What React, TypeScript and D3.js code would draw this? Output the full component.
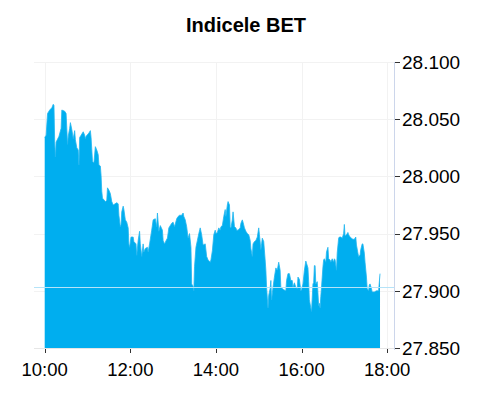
import React from "react";
import * as d3 from "d3";

const title = "Indicele BET";

const times: string[] = [
  "10:00","10:02","10:04","10:07","10:10","10:12","10:13","10:14","10:15","10:16",
  "10:20","10:23","10:24","10:28","10:30","10:32","10:33","10:35","10:36","10:38",
  "10:40","10:42","10:43","10:45","10:47","10:48","10:49","10:51","10:54","10:56",
  "10:57","10:58","11:02","11:04","11:05","11:07","11:09","11:11","11:13","11:15",
  "11:16","11:18","11:19","11:20","11:21","11:25","11:27","11:28","11:30","11:32",
  "11:34","11:36","11:41","11:43","11:44","11:46","11:47","11:48","11:50","11:51",
  "11:53","11:55","11:57","11:58","11:59","12:01","12:04","12:05","12:08","12:09",
  "12:11","12:13","12:14","12:16","12:18","12:19","12:21","12:24","12:25","12:27",
  "12:30","12:32","12:35","12:37","12:38","12:40","12:42","12:45","12:46","12:48",
  "12:51","12:52","12:54","12:58","13:00","13:02","13:05","13:07","13:09","13:12",
  "13:14","13:15","13:17","13:19","13:21","13:23","13:25","13:26","13:28","13:29",
  "13:30","13:32","13:34","13:36","13:38","13:40","13:42","13:45","13:47","13:49",
  "13:52","13:53","13:55","13:57","13:59","14:00","14:02","14:04","14:06","14:07",
  "14:09","14:11","14:13","14:14","14:16","14:17","14:19","14:20","14:21","14:23",
  "14:24","14:26","14:28","14:29","14:31","14:34","14:35","14:37","14:38","14:40",
  "14:42","14:44","14:46","14:48","14:49","14:51","14:52","14:54","14:56","14:58",
  "15:00","15:01","15:03","15:04","15:05","15:07","15:09","15:10","15:11","15:13",
  "15:14","15:16","15:17","15:18","15:20","15:22","15:24","15:26","15:28","15:30",
  "15:31","15:33","15:35","15:38","15:39","15:41","15:43","15:45","15:47","15:48",
  "15:50","15:52","15:54","15:55","15:57","15:59","16:00","16:02","16:04","16:06",
  "16:07","16:09","16:10","16:11","16:13","16:14","16:16","16:17","16:18","16:19",
  "16:20","16:22","16:23","16:24","16:25","16:26","16:27","16:28","16:30","16:31",
  "16:32","16:34","16:35","16:37","16:38","16:40","16:41","16:43","16:45","16:46",
  "16:47","16:49","16:50","16:52","16:53","16:55","16:57","16:59","17:00","17:01",
  "17:03","17:05","17:06","17:08","17:10","17:12","17:14","17:16","17:17","17:19",
  "17:20","17:22","17:23","17:25","17:26","17:28","17:29","17:31","17:32","17:34",
  "17:35","17:36","17:38","17:39","17:42","17:45","17:48","17:50"
];

const values: number[] = [
  28.034,28.036,28.055,28.058,28.060,28.063,28.062,28.030,28.017,28.030,
  28.035,28.042,28.058,28.057,28.055,28.028,28.035,28.042,28.047,28.041,
  28.033,28.040,28.032,28.025,28.023,28.010,28.034,28.036,28.039,28.036,
  28.033,28.035,28.038,28.040,28.034,28.013,28.012,28.026,28.023,28.019,
  28.010,28.009,28.001,27.987,27.981,27.978,27.979,27.990,27.988,27.985,
  27.978,27.975,27.977,27.976,27.966,27.956,27.958,27.969,27.974,27.971,
  27.962,27.960,27.955,27.941,27.938,27.947,27.947,27.943,27.941,27.931,
  27.944,27.952,27.941,27.930,27.941,27.934,27.937,27.938,27.934,27.941,
  27.953,27.962,27.963,27.956,27.968,27.952,27.957,27.953,27.944,27.941,
  27.945,27.946,27.955,27.959,27.960,27.956,27.963,27.965,27.966,27.966,
  27.968,27.965,27.962,27.956,27.946,27.950,27.938,27.906,27.904,27.900,
  27.921,27.938,27.944,27.950,27.955,27.949,27.940,27.941,27.930,27.927,
  27.925,27.927,27.935,27.949,27.953,27.950,27.951,27.955,27.953,27.956,
  27.957,27.965,27.971,27.965,27.975,27.978,27.975,27.956,27.955,27.962,
  27.969,27.956,27.955,27.953,27.953,27.955,27.959,27.962,27.960,27.955,
  27.952,27.950,27.949,27.944,27.937,27.930,27.941,27.943,27.944,27.947,
  27.955,27.949,27.936,27.941,27.946,27.943,27.927,27.918,27.903,27.885,
  27.896,27.902,27.909,27.892,27.903,27.912,27.920,27.918,27.925,27.918,
  27.903,27.902,27.901,27.900,27.909,27.915,27.915,27.909,27.909,27.903,
  27.907,27.903,27.902,27.912,27.910,27.900,27.901,27.906,27.918,27.926,
  27.924,27.920,27.908,27.892,27.885,27.882,27.906,27.907,27.922,27.922,
  27.906,27.908,27.898,27.887,27.889,27.885,27.895,27.903,27.921,27.927,
  27.928,27.925,27.934,27.938,27.928,27.927,27.925,27.928,27.925,27.928,
  27.927,27.918,27.933,27.946,27.947,27.947,27.946,27.950,27.958,27.948,
  27.949,27.951,27.949,27.947,27.946,27.945,27.945,27.947,27.940,27.933,
  27.930,27.931,27.936,27.941,27.941,27.933,27.925,27.912,27.902,27.900,
  27.905,27.906,27.902,27.899,27.899,27.900,27.900,27.915
];

const previousClose = 27.903;
const yTicks: number[] = [27.85, 27.9, 27.95, 28.0, 28.05, 28.1];
const xTickLabels: string[] = ["10:00", "12:00", "14:00", "16:00", "18:00"];
const xDomain: string[] = ["09:45", "18:11"];

const W = 492;
const H = 400;
const plot = { left: 34, right: 395, top: 62, bottom: 348 };

const parseT = (s: string) => {
  const [h, m] = s.split(":").map(Number);
  return new Date(2020, 0, 1, h, m);
};

const fmtY = (v: number) => {
  const s = v.toFixed(3);
  const [a, b] = s.split(".");
  return a.slice(0, 2) + "." + a.slice(2) + b;
};

export default function App() {
  const x = d3
    .scaleTime()
    .domain(xDomain.map(parseT) as [Date, Date])
    .range([plot.left, plot.right]);
  const y = d3.scaleLinear().domain([27.85, 28.1]).range([plot.bottom, plot.top]);

  const data = times.map((t, i) => ({ t: parseT(t), v: values[i] }));
  const area = d3
    .area<{ t: Date; v: number }>()
    .x((d) => x(d.t))
    .y0(y(27.85))
    .y1((d) => y(d.v));
  const line = d3
    .line<{ t: Date; v: number }>()
    .x((d) => x(d.t))
    .y((d) => y(d.v));

  const font = "Arial, 'Liberation Sans', sans-serif";

  return (
    <svg width={W} height={H} style={{ position: "absolute", left: 0, top: 0 }}>
      <rect width={W} height={H} fill="#fff" />
      <text
        x={W / 2}
        y={31.5}
        textAnchor="middle"
        fontFamily={font}
        fontWeight="bold"
        fontSize={20}
        fill="#000"
      >
        {title}
      </text>
      {yTicks.map((t) => (
        <line
          key={"gy" + t}
          x1={plot.left}
          x2={plot.right}
          y1={Math.round(y(t)) + 0.5}
          y2={Math.round(y(t)) + 0.5}
          stroke="#f2f2f2"
        />
      ))}
      {xTickLabels.map((t) => (
        <line
          key={"gx" + t}
          x1={Math.round(x(parseT(t))) + 0.5}
          x2={Math.round(x(parseT(t))) + 0.5}
          y1={plot.top}
          y2={plot.bottom}
          stroke="#f2f2f2"
        />
      ))}
      <path d={area(data) || ""} fill="#00aeef" />
      <path d={line(data) || ""} fill="none" stroke="#22b6f0" strokeWidth={0.8} />
      <line
        x1={plot.left}
        x2={plot.right}
        y1={Math.round(y(previousClose)) + 0.5}
        y2={Math.round(y(previousClose)) + 0.5}
        stroke="#b5e3f8"
        strokeWidth={1}
      />
      <line
        x1={plot.left}
        x2={plot.right}
        y1={plot.bottom + 0.5}
        y2={plot.bottom + 0.5}
        stroke="#e6e6e6"
      />
      <line
        x1={plot.right - 0.5}
        x2={plot.right - 0.5}
        y1={plot.top}
        y2={plot.bottom + 2}
        stroke="#ccd6eb"
      />
      {yTicks.map((t) => (
        <g key={"ty" + t}>
          <line
            x1={plot.right}
            x2={plot.right + 5}
            y1={Math.round(y(t)) + 0.5}
            y2={Math.round(y(t)) + 0.5}
            stroke="#333"
          />
          <text
            x={plot.right + 7}
            y={y(t)}
            dy="0.36em"
            fontFamily={font}
            fontSize={19}
            fill="#000"
          >
            {fmtY(t)}
          </text>
        </g>
      ))}
      {xTickLabels.map((t) => (
        <g key={"tx" + t}>
          <line
            x1={Math.round(x(parseT(t))) + 0.5}
            x2={Math.round(x(parseT(t))) + 0.5}
            y1={plot.bottom + 1}
            y2={plot.bottom + 5}
            stroke="#333"
          />
          <text
            x={x(parseT(t))}
            y={376}
            textAnchor="middle"
            fontFamily={font}
            fontSize={18.5}
            fill="#000"
          >
            {t}
          </text>
        </g>
      ))}
    </svg>
  );
}
